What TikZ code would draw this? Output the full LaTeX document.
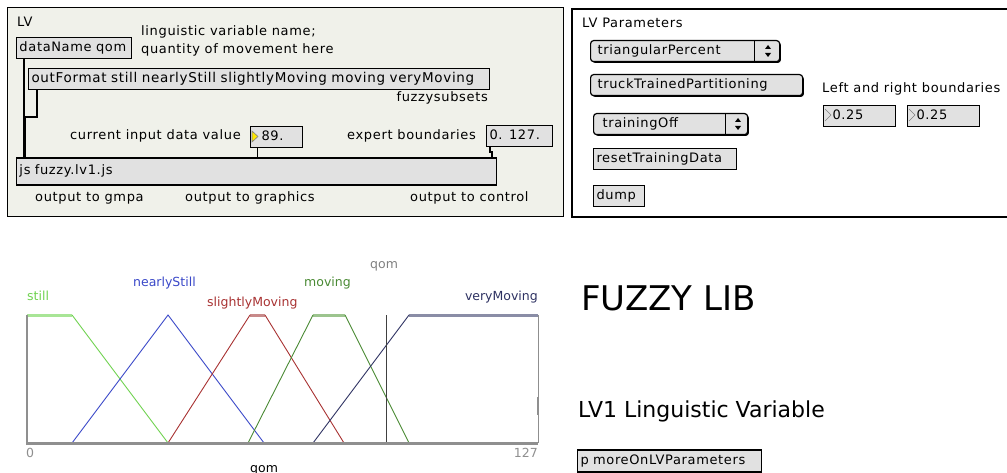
\documentclass[tikz,border=0pt]{standalone}
\usepackage{fontspec}
\setmainfont{DejaVu Sans}
\newfontfamily\patchfam[LetterSpace=5]{DejaVu Sans}
\usetikzlibrary{positioning,shadows}
\definecolor{panelbg}{HTML}{F0F1EA}
\definecolor{boxgray}{HTML}{E1E1E1}
\definecolor{axisgray}{HTML}{8F8F8F}
\definecolor{stillc}{HTML}{6FD24F}
\definecolor{stillp}{HTML}{A8E596}
\definecolor{nearc}{HTML}{3A48C8}
\definecolor{slightc}{HTML}{A83232}
\definecolor{slightp}{HTML}{C88A8A}
\definecolor{movc}{HTML}{4A8A34}
\definecolor{movp}{HTML}{9CC48E}
\definecolor{veryc}{HTML}{2E3262}
\definecolor{veryp}{HTML}{8A8DA6}
\tikzset{
  patchfont/.style={font=\patchfam\fontsize{13}{15}\selectfont},
  lbl/.style={patchfont, inner sep=0pt, anchor=base west},
  maxbox/.style={patchfont, draw, fill=boxgray, line width=1pt, inner xsep=3pt, inner ysep=0pt,
    minimum height=21pt, text width=#1, align=left, anchor=north west,
    text height=9.5pt, text depth=3pt},
  menubox/.style={maxbox=#1, rounded corners=3pt, line width=1.2pt, inner xsep=7pt,
    drop shadow={shadow xshift=1.3pt, shadow yshift=-1.3pt, opacity=1, fill=black}},
  cord/.style={line width=1.5pt},
  glabel/.style={font=\fontsize{12.5}{14}\selectfont, inner sep=0pt, anchor=base west},
  slope/.style={line width=0.9pt},
  plateau/.style={line width=3pt}
}
\begin{document}
\begin{tikzpicture}[x=1pt,y=-1pt]
\useasboundingbox (0,0) rectangle (1007,473);

\draw[fill=panelbg, line width=1pt] (7,8) rectangle (563,217);
\node[lbl] (lvtitle) at (17,27) {LV};
\node[maxbox=109pt] (dname) at (16,37) {dataName qom};
\node[lbl] (cmt1) at (141,36) {linguistic variable name;};
\node[lbl] (cmt2) at (141,54) {quantity of movement here};
\node[maxbox=455pt, font=\patchfam\fontsize{13.5}{15}\selectfont] (fmt) at (28,68) {outFormat still nearlyStill slightlyMoving moving veryMoving};
\node[lbl, anchor=base east] (subsets) at (488,102) {fuzzysubsets};
\node[lbl] (curtxt) at (70,140) {current input data value};
\node[maxbox=46pt, inner xsep=3pt] (cur) at (250,126) {\hspace{8pt}89.};
\filldraw[fill=yellow!90!orange, draw=gray, line width=0.6pt] ([xshift=2pt,yshift=-5pt]cur.north west) -- ++(6,5.5) -- ++(-6,5.5) -- cycle;
\node[lbl] (bndtxt) at (347,140) {expert boundaries};
\node[maxbox=60pt] (bnd) at (486,125) {0. 127.};
\node[maxbox=474pt, minimum height=26pt] (js) at (16,158) {js fuzzy.lv1.js};
\draw[line width=2.5pt] (js.north west) -- (js.north east);
\draw[line width=2.5pt] (js.south west) -- (js.south east);
\draw[cord, line width=2pt] ([xshift=8pt]dname.south west) -- ([xshift=8pt]dname.south west |- js.north);
\draw[cord] ([xshift=9pt]fmt.south west) -- ++(0,27) -| ([xshift=9pt]js.north west);
\draw[cord, line width=1pt] ([xshift=7pt]cur.south west) -- ([xshift=7pt]cur.south west |- js.north);
\draw[cord] ([xshift=4pt]bnd.south west) -- ++(0,5) -| ([xshift=-5pt]js.north east);
\node[lbl] (outg) at (35,202) {output to gmpa};
\node[lbl] (outgr) at (185,202) {output to graphics};
\node[lbl] (outc) at (410,202) {output to control};

\draw[fill=white, line width=1.2pt] (572,9) rectangle (1020,217);
\node[lbl] (partitle) at (582,28) {LV Parameters};
\node[menubox=175pt] (shape) at (590,40) {triangularPercent};
\draw[line width=0.8pt] (754,41) -- (754,61);
\fill (765,49) -- (771,49) -- (768,45) -- cycle;
\fill (765,53) -- (771,53) -- (768,57) -- cycle;
\node[menubox=198pt] (truck) at (590,74) {truckTrainedPartitioning};
\node[menubox=140pt] (train) at (593,113) {\hspace{2pt}trainingOff};
\draw[line width=0.8pt] (725,114) -- (725,135);
\fill (735,122) -- (741,122) -- (738,118) -- cycle;
\fill (735,126) -- (741,126) -- (738,130) -- cycle;
\node[maxbox=137pt] (reset) at (593,148) {resetTrainingData};
\node[maxbox=45pt] (dump) at (593,185) {dump};
\node[lbl] (lrtxt) at (822,93) {Left and right boundaries};
\node[maxbox=66pt] (lnum) at (823,105) {\hspace{6pt}0.25};
\node[maxbox=66pt] (rnum) at (907,105) {\hspace{6pt}0.25};
\draw[gray, line width=0.6pt] ([xshift=2pt,yshift=-4pt]lnum.north west) -- ++(6,6) -- ++(-6,6);
\draw[gray, line width=0.6pt] ([xshift=2pt,yshift=-4pt]rnum.north west) -- ++(6,6) -- ++(-6,6);

\draw[axisgray, line width=0.7pt] (538,315) -- (538,443);
\draw[axisgray, line width=2pt] (538,397) -- (538,415);
\draw[stillp, plateau] (27,315) -- (72,315);
\draw[stillc, slope] (72,315) -- (168,443);
\draw[nearc, slope] (72,443) -- (168,315) -- (264,443);
\draw[slightp, plateau] (250,315) -- (265,315);
\draw[slightc, slope] (168,443) -- (250,315) (265,315) -- (344,443);
\draw[movp, plateau] (313,315) -- (345,315);
\draw[movc, slope] (248,443) -- (313,315) (345,315) -- (409,443);
\draw[veryp, plateau] (409,315) -- (538,315);
\draw[veryc, slope] (313,443) -- (409,315);
\draw[black!75, line width=0.8pt] (386,315) -- (386,443);
\draw[axisgray, line width=2pt] (27,315) -- (27,443);
\draw[axisgray, line width=3pt] (26,443) -- (538,443);
\node[glabel, text=stillc] (lstill) at (27,301) {still};
\node[glabel, text=nearc] (lnear) at (133,287) {nearlyStill};
\node[glabel, text=slightc] (lslight) at (207,306) {slightlyMoving};
\node[glabel, text=movc] (lmov) at (304,287) {moving};
\node[glabel, text=veryc, anchor=base east] (lvery) at (538,301) {veryMoving};
\node[glabel, text=gray] (qomtop) at (370,269) {qom};
\node[glabel, text=axisgray] (zero) at (26,457) {0};
\node[glabel, text=axisgray, anchor=base east] (maxv) at (538,457) {127};
\node[glabel] (qombot) at (250,472) {qom};

\node[font=\fontsize{34}{36}\selectfont, inner sep=0pt, anchor=base west] (title) at (581,310) {FUZZY LIB};
\node[font=\fontsize{22}{24}\selectfont, inner sep=0pt, anchor=base west] (subtitle) at (578,417) {LV1 Linguistic Variable};
\node[maxbox=178pt, minimum height=21pt] (more) at (577,450) {p moreOnLVParameters};
\draw[line width=2.5pt] (more.north west) -- (more.north east);
\draw[line width=2.5pt] (more.south west) -- (more.south east);
\end{tikzpicture}
\end{document}
